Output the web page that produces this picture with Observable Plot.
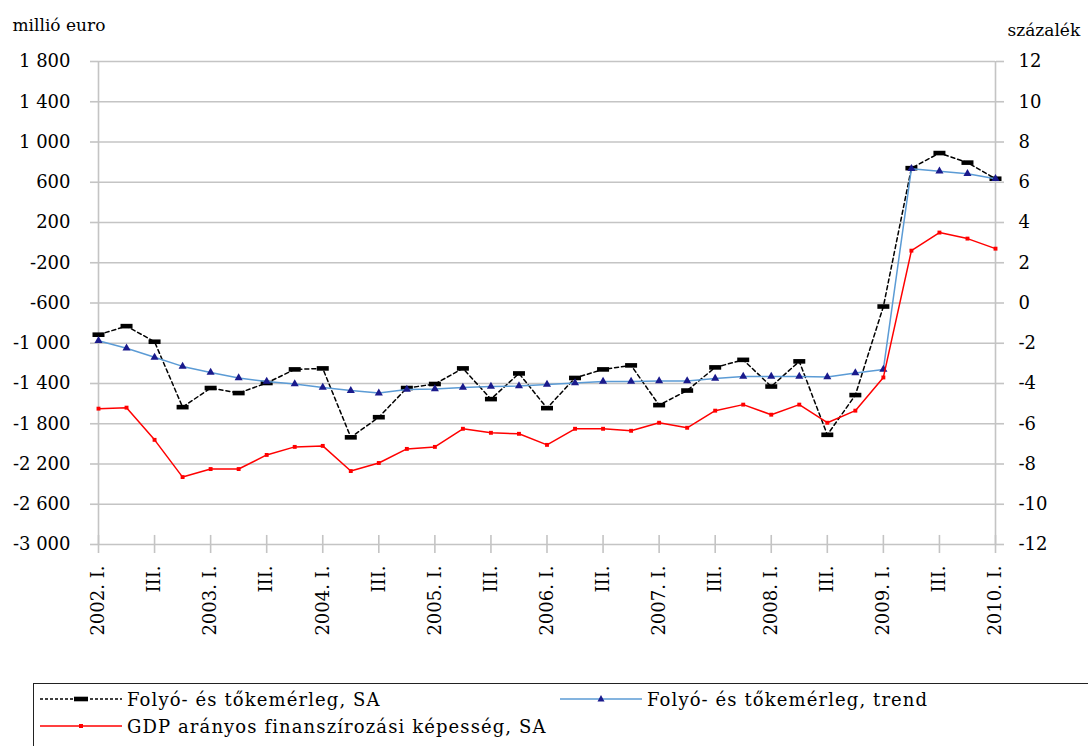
<!DOCTYPE html>
<html>
<head>
<meta charset="utf-8">
<script src="https://cdn.jsdelivr.net/npm/d3@7"></script>
<script src="https://cdn.jsdelivr.net/npm/@observablehq/plot@0.6"></script>
<style>
  html, body { margin: 0; padding: 0; background: #fff; overflow: hidden; width: 1088px; height: 746px; }
  #chart svg { display: block; }
  #legend { position: absolute; left: 33px; top: 683px; width: 1100px; height: 80px; border: 1.5px solid #222; box-sizing: border-box; font-family: "DejaVu Serif"; font-size: 18px; letter-spacing: 1.1px; color: #000; }
  .item { position: absolute; display: flex; align-items: center; height: 26px; }
  .item svg { margin-right: 5px; }
</style>
</head>
<body>
<div id="chart"></div>
<div id="legend"></div>
<script>
// Quarter labels 2002 Q1 .. 2010 Q1
const periods = [
  "2002. I.","II.","III.","IV.",
  "2003. I.","II.","III.","IV.",
  "2004. I.","II.","III.","IV.",
  "2005. I.","II.","III.","IV.",
  "2006. I.","II.","III.","IV.",
  "2007. I.","II.","III.","IV.",
  "2008. I.","II.","III.","IV.",
  "2009. I.","II.","III.","IV.",
  "2010. I."
];
// Folyó- és tőkemérleg, SA (millió euro)
const sa = [-915,-830,-985,-1635, -1445,-1495,-1395,-1260, -1250,-1935,-1735,-1445,
            -1405,-1250,-1555,-1300, -1645,-1345,-1260,-1220, -1615,-1470,-1240,-1165,
            -1430,-1180,-1910,-1515, -635,740,890,795, 635];
// Folyó- és tőkemérleg, trend (millió euro)
const trend = [-975,-1050,-1140,-1230, -1290,-1345,-1380,-1405, -1440,-1470,-1495,-1460,
               -1455,-1440,-1430,-1425, -1410,-1395,-1380,-1380, -1375,-1375,-1350,-1330,
               -1330,-1330,-1335,-1295, -1260,735,710,685, 635];
// GDP arányos finanszírozási képesség, SA (százalék)
const gdp = [-5.25,-5.2,-6.8,-8.65, -8.25,-8.25,-7.55,-7.15, -7.1,-8.35,-7.95,-7.25,
             -7.15,-6.25,-6.45,-6.5, -7.05,-6.25,-6.25,-6.35, -5.95,-6.2,-5.35,-5.05,
             -5.55,-5.05,-5.95,-5.35, -3.7,2.6,3.5,3.2, 2.7];
// Tick values
const leftTicks = [-3000,-2600,-2200,-1800,-1400,-1000,-600,-200,200,600,1000,1400,1800];
const rightTicks = [-12,-10,-8,-6,-4,-2,0,2,4,6,8,10,12];
const leftTitle = "millió euro";
const rightTitle = "százalék";
const seriesNames = ["Folyó- és tőkemérleg, SA", "Folyó- és tőkemérleg, trend", "GDP arányos finanszírozási képesség, SA"];

// right axis (%) maps onto left axis (millió euro): left = pct*200 - 600
const pctToLeft = p => p * 200 - 600;
const leftToPct = v => (v + 600) / 200;

const loc = d3.formatLocale({decimal: ",", thousands: " ", grouping: [3], currency: ["", ""], minus: "-"});
const fmtLeft = loc.format(",");
const fmtRight = loc.format("d");

const tickIdx = periods.map((p, i) => i).filter(i => /I\.$/.test(periods[i]) && !/II\.$/.test(periods[i]) || /III\.$/.test(periods[i]));

const rectSym = { draw(ctx) { ctx.rect(-6, -2.3, 12, 4.6); } };
const grid = "#c4c4c4";
const idx = (d, i) => i;

const chart = Plot.plot({
  width: 1088,
  height: 682,
  marginLeft: 98,
  marginRight: 93,
  marginTop: 61,
  marginBottom: 138,
  x: {domain: [0, periods.length - 1], axis: null},
  y: {domain: [-3000, 1800], axis: null},
  style: {fontFamily: "DejaVu Serif", fontSize: "18px", color: "#000", background: "#fff"},
  marks: [
    Plot.gridY(leftTicks, {stroke: grid, strokeOpacity: 1, strokeWidth: 1.6}),
    Plot.axisY(leftTicks, {anchor: "left", tickSize: 8, tickPadding: 20, stroke: grid, strokeWidth: 1.6, tickFormat: fmtLeft, fill: "#000"}),
    Plot.axisY(rightTicks.map(pctToLeft), {anchor: "right", tickSize: 8, tickPadding: 15, stroke: grid, strokeWidth: 1.6, tickFormat: v => fmtRight(leftToPct(v)), fill: "#000"}),
    Plot.axisX(tickIdx, {anchor: "bottom", tickSize: 9, stroke: grid, strokeWidth: 1.6, tickFormat: () => ""}),
    Plot.ruleX(tickIdx, {x: d => d, y1: -3000, y2: -2910, stroke: grid, strokeWidth: 1.6}),
    Plot.ruleX([0, periods.length - 1], {y1: -3000, y2: 1800, stroke: grid, strokeWidth: 1.6}),
    Plot.text(tickIdx, {x: d => d, frameAnchor: "bottom", dy: 21, rotate: -90, textAnchor: "end", lineAnchor: "middle", text: i => periods[i], fill: "#000"}),
    Plot.text([leftTitle], {frameAnchor: "top-left", dx: -86, dy: -31, textAnchor: "start", lineAnchor: "bottom", text: d => d, fontSize: 17, letterSpacing: 1.2}),
    Plot.text([rightTitle], {frameAnchor: "top-right", dx: 12, dy: -26, textAnchor: "start", lineAnchor: "bottom", text: d => d, fontSize: 17, letterSpacing: 0.6}),
    // series
    Plot.line(sa, {x: idx, y: d => d, stroke: "#000", strokeWidth: 1.5, strokeDasharray: "4,3"}),
    Plot.dot(sa, {x: idx, y: d => d, symbol: rectSym, fill: "#000", stroke: "none"}),
    Plot.line(trend, {x: idx, y: d => d, stroke: "#5b9bd5", strokeWidth: 1.5}),
    Plot.dot(trend, {x: idx, y: d => d, symbol: "triangle", r: 3, fill: "#1a1a8c", stroke: "none"}),
    Plot.line(gdp, {x: idx, y: d => pctToLeft(d), stroke: "#ff0000", strokeWidth: 1.5}),
    Plot.dot(gdp, {x: idx, y: d => pctToLeft(d), symbol: "square", r: 2.2, fill: "#ff0000", stroke: "none"})
  ]
});
document.getElementById("chart").appendChild(chart);

// Legend
const legend = document.getElementById("legend");
function sample(kind) {
  const w = 82, h = 14, cy = 7;
  let s = `<svg width="${w}" height="${h}">`;
  if (kind === 0) {
    s += `<line x1="0" y1="${cy}" x2="${w}" y2="${cy}" stroke="#000" stroke-width="1.5" stroke-dasharray="3,2"/>`;
    s += `<rect x="${w/2-7}" y="${cy-2.3}" width="14" height="4.6" fill="#000"/>`;
  } else if (kind === 1) {
    s += `<line x1="0" y1="${cy}" x2="${w}" y2="${cy}" stroke="#5b9bd5" stroke-width="1.5"/>`;
    s += `<path d="M${w/2},${cy-4} L${w/2+3.5},${cy+2.5} L${w/2-3.5},${cy+2.5} Z" fill="#1a1a8c"/>`;
  } else {
    s += `<line x1="0" y1="${cy}" x2="${w}" y2="${cy}" stroke="#ff0000" stroke-width="1.5"/>`;
    s += `<rect x="${w/2-2}" y="${cy-2}" width="4" height="4" fill="#ff0000"/>`;
  }
  return s + `</svg>`;
}
const positions = [[6, 2], [526, 2], [6, 29]];
seriesNames.forEach((name, k) => {
  const d = document.createElement("div");
  d.className = "item";
  d.style.left = positions[k][0] + "px";
  d.style.top = positions[k][1] + "px";
  d.innerHTML = sample(k) + `<span>${name}</span>`;
  legend.appendChild(d);
});
</script>
</body>
</html>
